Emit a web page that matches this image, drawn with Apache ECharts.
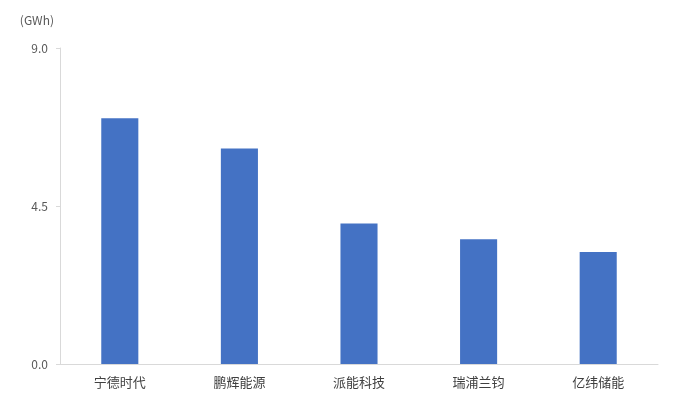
<!DOCTYPE html>
<html>
<head>
<meta charset="utf-8">
<script src="https://cdn.jsdelivr.net/npm/echarts@6/dist/echarts.min.js"></script>
<style>
html,body{margin:0;padding:0;background:#fff;}
#main{width:684px;height:401px;}
</style>
</head>
<body>
<div id="main"></div>
<script>
const categories = ['宁德时代', '鹏辉能源', '派能科技', '瑞浦兰钧', '亿纬储能'];
const values = [7.0, 6.14, 4.0, 3.55, 3.19];
const yTicks = [0, 4.5, 9.0];
const unitLabel = '(GWh)';

const chart = echarts.init(document.getElementById('main'));
chart.setOption({
  animation: false,
  textStyle: { fontFamily: '"Noto Sans CJK SC", "Noto Sans", sans-serif' },
  grid: { left: 60, right: 26, top: 48, bottom: 37, containLabel: false },
  xAxis: {
    type: 'category',
    data: categories,
    axisLine: { show: true, lineStyle: { color: '#d9d9d9', width: 1 } },
    axisTick: { show: false },
    axisLabel: { color: '#404040', fontSize: 13, margin: 12 }
  },
  yAxis: {
    type: 'value',
    min: yTicks[0],
    max: yTicks[yTicks.length - 1],
    interval: yTicks[1] - yTicks[0],
    name: unitLabel,
    nameLocation: 'end',
    nameGap: 22,
    nameTextStyle: { color: '#595959', fontSize: 12, align: 'right', padding: [0, 6, 0, 0] },
    axisLine: { show: true, lineStyle: { color: '#d9d9d9', width: 1 } },
    axisTick: { show: true, length: 4, lineStyle: { color: '#d9d9d9' } },
    splitLine: { show: false },
    axisLabel: {
      color: '#595959', fontSize: 12, margin: 12,
      formatter: v => v.toFixed(1)
    }
  },
  series: [{
    type: 'bar',
    data: values,
    barWidth: '31%',
    itemStyle: { color: '#4472c4' }
  }]
});
</script>
</body>
</html>
